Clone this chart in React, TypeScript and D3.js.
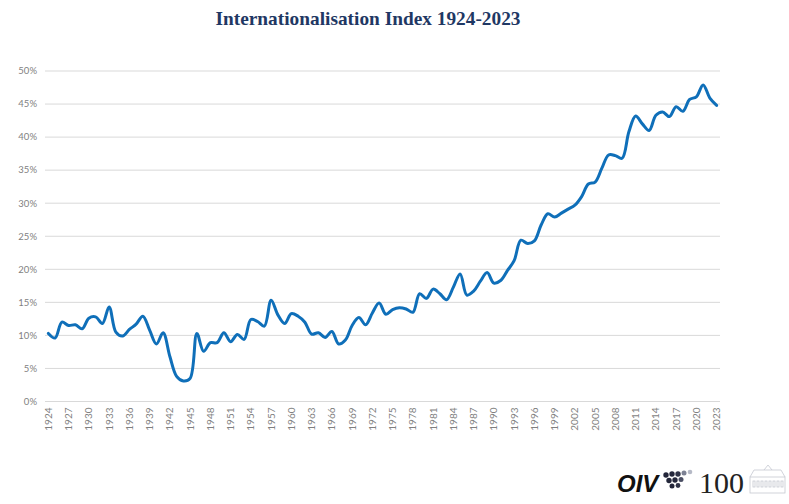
import React from "react";
import * as d3 from "d3";

// Index values (share, in %), one per year 1924..2023
const years: number[] = d3.range(1924, 2024);
const indexValues: number[] = [
  10.3, 9.6, 12.0, 11.5, 11.6, 11.0, 12.6, 12.8, 11.8, 14.3,
  10.5, 9.9, 10.9, 11.7, 12.9, 10.8, 8.7, 10.4, 6.8, 3.8,
  3.1, 3.5, 10.3, 7.6, 8.9, 8.9, 10.4, 9.05, 10.15, 9.4,
  12.4, 12.1, 11.4, 15.3, 13.1, 11.8, 13.3, 12.9, 12.0, 10.2,
  10.4, 9.7, 10.6, 8.7, 9.3, 11.5, 12.7, 11.6, 13.4, 14.9,
  13.2, 13.9, 14.2, 14.0, 13.5, 16.3, 15.6, 17.0, 16.3, 15.4,
  17.3, 19.3, 16.1, 16.7, 18.2, 19.5, 17.9, 18.3, 19.8, 21.3,
  24.4, 23.9, 24.3, 26.7, 28.4, 27.9, 28.5, 29.1, 29.7, 31.0,
  32.9, 33.2, 35.3, 37.3, 37.2, 36.8, 40.8, 43.2, 42.0, 41.0,
  43.3, 43.8, 43.1, 44.6, 43.9, 45.7, 46.1, 47.9, 45.9, 44.8,
];
const yTicks: number[] = [0, 5, 10, 15, 20, 25, 30, 35, 40, 45, 50];
const xTickYears: number[] = years.filter((y) => (y - 1924) % 3 === 0);

const W = 789;
const H = 504;
const plot = { left: 45, right: 720, top: 71, bottom: 401.5 };

const labelFont = "Lato, 'Open Sans', sans-serif";

const App: React.FC = () => {
  const x = d3
    .scaleBand<number>()
    .domain(years)
    .range([plot.left, plot.right]);
  const cx = (yr: number) => (x(yr) || 0) + x.bandwidth() / 2;

  const y = d3.scaleLinear().domain([0, 50]).range([plot.bottom, plot.top]);

  const data = years.map((yr, i) => ({ year: yr, value: indexValues[i] }));

  const line = d3
    .line<{ year: number; value: number }>()
    .x((d) => cx(d.year))
    .y((d) => y(d.value))
    .curve(d3.curveCatmullRom.alpha(0.5));

  // little grape cluster next to the logo (tapering downwards)
  const grapes: [number, number, number, string][] = [
    [666, 475, 2.7, "#23263a"],
    [672, 474, 2.7, "#23263a"],
    [678, 474, 2.7, "#2f3347"],
    [684, 473, 2.5, "#7d8294"],
    [690, 472, 2.3, "#b5b9c6"],
    [669, 480.5, 2.7, "#23263a"],
    [675, 480, 2.7, "#23263a"],
    [681, 479.5, 2.5, "#4a4e63"],
    [672, 486, 2.5, "#23263a"],
    [678, 485.5, 2.4, "#2f3347"],
  ];

  return (
    <div style={{ position: "absolute", left: 0, top: 0 }}>
      <svg width={W} height={H} style={{ display: "block", background: "#fff" }}>
        <text
          x={368}
          y={25}
          textAnchor="middle"
          fontFamily="'Liberation Serif', 'DejaVu Serif', serif"
          fontWeight="bold"
          fontSize={19}
          textLength={305}
          lengthAdjust="spacingAndGlyphs"
          fill="#1f3864"
        >
          Internationalisation Index 1924-2023
        </text>

        {/* gridlines + y labels */}
        {yTicks.map((t) => (
          <g key={t}>
            <line
              x1={plot.left}
              x2={plot.right}
              y1={y(t)}
              y2={y(t)}
              stroke="#d9d9d9"
              strokeWidth={1}
            />
            <text
              x={37}
              y={y(t)}
              dy="0.35em"
              textAnchor="end"
              fontFamily={labelFont}
              fontSize={9.5}
              fill="#7f7f7f"
            >
              {t}%
            </text>
          </g>
        ))}

        {/* x labels, rotated */}
        {xTickYears.map((yr) => (
          <text
            key={yr}
            transform={`translate(${cx(yr)},${plot.bottom + 6}) rotate(-90)`}
            dy="0.35em"
            textAnchor="end"
            fontFamily={labelFont}
            fontSize={10}
            fill="#7f7f7f"
          >
            {yr}
          </text>
        ))}

        <path
          d={line(data) || ""}
          fill="none"
          stroke="#0f6fb9"
          strokeWidth={3}
          strokeLinejoin="round"
          strokeLinecap="round"
        />

        {/* OIV 100 logo */}
        <text
          x={617}
          y={492}
          fontFamily="'Liberation Sans', Arial, sans-serif"
          fontWeight="bold"
          fontStyle="italic"
          fontSize={24}
          fill="#111"
        >
          OIV
        </text>
        {grapes.map(([gx, gy, r, c], i) => (
          <circle key={i} cx={gx} cy={gy} r={r} fill={c} />
        ))}
        <text
          x={699}
          y={493}
          fontFamily="'Liberation Serif', 'DejaVu Serif', serif"
          fontSize={30}
          fill="#222"
        >
          100
        </text>
        <g fill="none" stroke="#c5c8d0" strokeWidth={0.8}>
          <rect x={750} y={477} width={35} height={16} />
          <path d="M750,477 L754,470 L781,470 L785,477" />
          <path d="M764,470 L768,465 L772,470" />
          {d3.range(753, 784, 4).map((wx) => (
            <rect key={wx} x={wx} y={481} width={2} height={6} />
          ))}
        </g>
      </svg>
    </div>
  );
};

export default App;
